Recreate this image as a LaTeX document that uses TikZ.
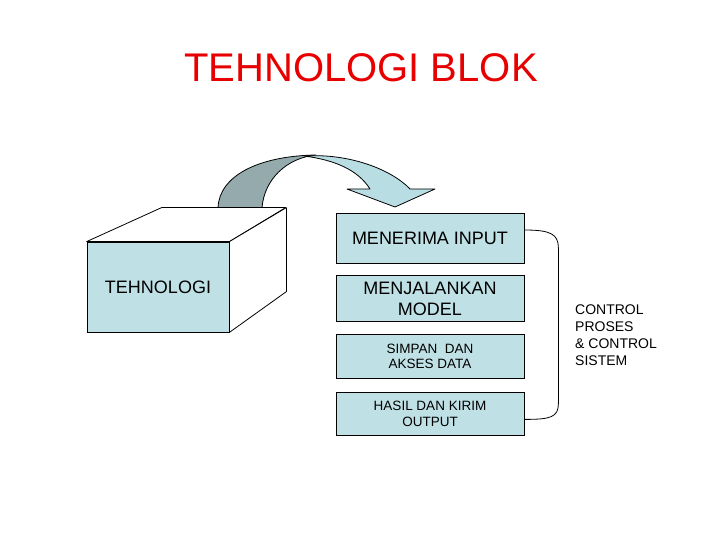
\documentclass[tikz,border=0pt]{standalone}
\usepackage{fontspec}
\setmainfont{Liberation Sans}
\usetikzlibrary{positioning, calc}
\definecolor{boxblue}{RGB}{191, 225, 229}
\definecolor{arrowlight}{RGB}{184, 222, 227}
\definecolor{arrowdark}{RGB}{148, 170, 172}
\definecolor{titlered}{RGB}{232, 0, 0}
\tikzset{
  procbox/.style={draw, fill=boxblue, line width=0.8pt, minimum width=188pt, align=center, inner sep=2pt},
  bigtext/.style={font=\fontsize{18}{21}\selectfont},
  smalltext/.style={font=\fontsize{13.5}{15.5}\selectfont},
  cubeface/.style={draw, fill=white, line width=0.8pt, line join=round},
  bendarrow/.style={draw, line width=0.8pt, line join=round},
}

\begin{document}
\begin{tikzpicture}[x=1pt, y=-1pt, node distance=12pt]
  \useasboundingbox (0,0) rectangle (720,540);
  \node[font=\fontsize{40}{48}\selectfont, text=titlered] (title) at (361,68) {TEHNOLOGI BLOK};
  \filldraw[bendarrow, fill=arrowdark] (218,208) .. controls (219,176) and (258,156) .. (316,155)
    .. controls (286,158) and (264,180) .. (262,208) -- cycle;
  \filldraw[bendarrow, fill=arrowlight] (304,156) .. controls (350,153) and (392,170) .. (410,189)
    -- (435,189) -- (395,207) -- (347,189) -- (370,189) .. controls (358,170) and (335,160) .. (304,156) -- cycle;
  \node[draw, fill=boxblue, line width=0.8pt, minimum width=142pt, minimum height=90pt, bigtext] (tech) at (158,287) {TEHNOLOGI};
  \filldraw[cubeface] (tech.north west) -- ++(75,-34) -- ++(124,0) -- (tech.north east) -- cycle;
  \filldraw[cubeface] (tech.north east) -- ++(57,-34) -- ++(0,84) -- (tech.south east) -- cycle;
  \node[procbox, bigtext, minimum height=50pt] (input) at (430,238) {MENERIMA INPUT};
  \node[procbox, bigtext, minimum height=46pt, below=12pt of input] (model) {MENJALANKAN\\MODEL};
  \node[procbox, smalltext, minimum height=44pt, below=12pt of model] (data) {SIMPAN\ \ DAN\\AKSES DATA};
  \node[procbox, smalltext, minimum height=43pt, below=13pt of data] (output) {HASIL DAN KIRIM\\OUTPUT};
  \coordinate (brtop) at ([yshift=8pt]input.east);
  \coordinate (brbot) at ([yshift=-5.5pt]output.east);
  \draw[line width=0.8pt] (brtop) .. controls +(26,0) and +(0,-14) .. ($(brtop)+(34,18)$)
    -- ($(brbot)+(34,-16)$) .. controls +(0,14) and +(26,0) .. (brbot);
  \node[font=\fontsize{14}{17}\selectfont, align=left, anchor=north west, inner sep=0pt] (ctrl) at (575,305) {CONTROL\\PROSES\\\& CONTROL\\SISTEM};
\end{tikzpicture}
\end{document}
